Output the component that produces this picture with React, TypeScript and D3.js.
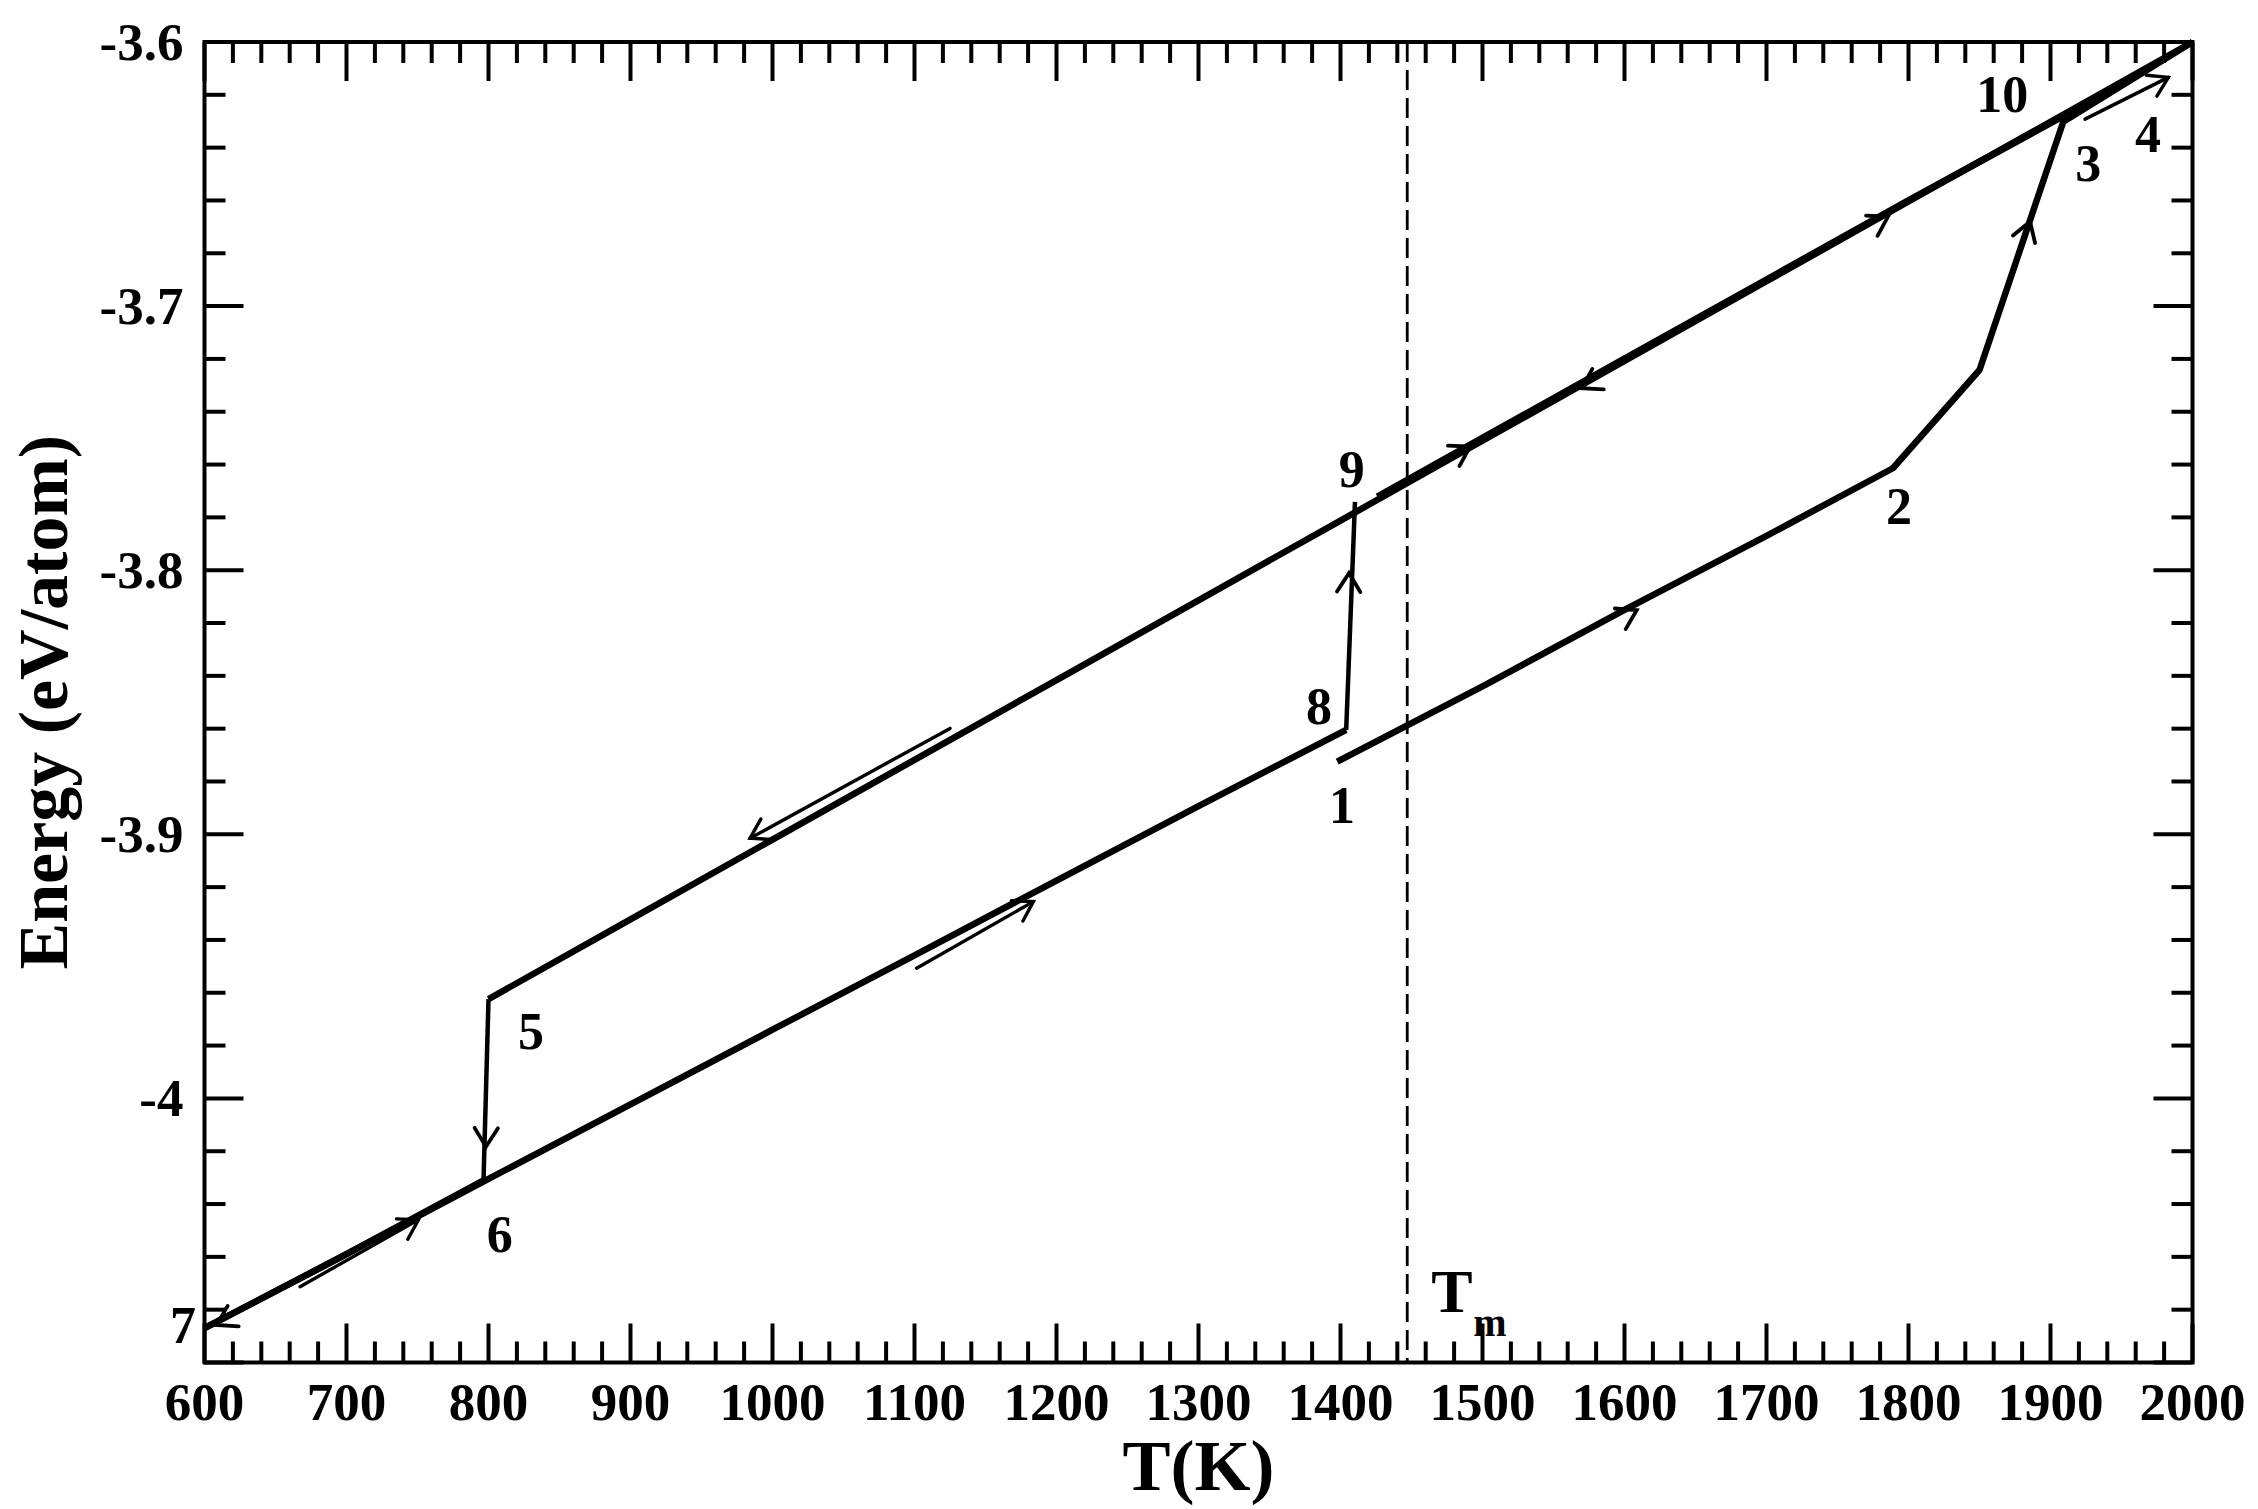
import React from "react";
import * as d3 from "d3";

// ---------- data ----------
const xDomain = [600, 2000];
const yDomain = [-4.1, -3.6];
const xMajorTicks = [600, 700, 800, 900, 1000, 1100, 1200, 1300, 1400, 1500, 1600, 1700, 1800, 1900, 2000];
const yMajorTicks = [-3.6, -3.7, -3.8, -3.9, -4.0, -4.1];
const yTickLabels = ["-3.6", "-3.7", "-3.8", "-3.9", "-4", ""];

// heating 1 -> 2 -> 3 -> 4
const heat1T = [1397.7, 1500, 1600, 1700, 1789, 1850, 1909, 2000];
const heat1E = [-3.8725, -3.844, -3.815, -3.787, -3.7614, -3.7242, -3.6302, -3.6];
// cooling 4 -> 5
const coolUpperT = [2000, 1900, 1800, 1700, 1600, 1500, 1400, 1300, 1200, 1100, 1000, 900, 800];
const coolUpperE = [-3.6, -3.6302, -3.6604, -3.6906, -3.7208, -3.751, -3.7812, -3.8114, -3.8416, -3.8718, -3.902, -3.9322, -3.9624];
// drop 5 -> 6
const dropT = [800, 796.5];
const dropE = [-3.9624, -4.031];
// cooling 6 -> 7
const coolLowerT = [796.5, 700, 600];
const coolLowerE = [-4.031, -4.059, -4.087];
// heating 7 -> 8
const heat2T = [600, 700, 800, 900, 1000, 1100, 1200, 1300, 1404];
const heat2E = [-4.087, -4.059, -4.0305, -4.0023, -3.974, -3.9458, -3.9175, -3.8893, -3.8605];
// jump 8 -> 9
const jumpT = [1404, 1410.2];
const jumpE = [-3.8605, -3.7741];
// heating 9 -> 10
const heat3T = [1426, 1500, 1600, 1700, 1800, 1909];
const heat3E = [-3.7722, -3.75, -3.72, -3.69, -3.66, -3.628];

// melting temperature
const meltT = 1447;

// arrowheads sitting on curves: tip and a point behind it
const headTipT = [1785.6, 1569.9, 1491.2, 1608.6, 1406, 1885.6, 798.2, 608.6];
const headTipE = [-3.6661, -3.7311, -3.7532, -3.8151, -3.8011, -3.668, -4.0183, -4.0858];
const headTailT = [1700, 1650, 1420, 1500, 1404.5, 1850, 799.5, 660];
const headTailE = [-3.692, -3.707, -3.775, -3.846, -3.84, -3.7242, -3.98, -4.071];

// free-standing arrows: from -> to
const arrowFromT = [1125, 1101.5, 1924.3, 667.3];
const arrowFromE = [-3.8599, -3.9507, -3.6292, -4.0713];
const arrowToT = [984.2, 1183.7, 1983, 750.6];
const arrowToE = [-3.9015, -3.9255, -3.6134, -4.046];

// point labels
const labelText = ["1", "2", "3", "4", "5", "6", "7", "8", "9", "10"];
const labelT = [1401, 1793.3, 1926.5, 1968.7, 830, 808, 584.9, 1384.9, 1408, 1866];
const labelE = [-3.8959, -3.7825, -3.6527, -3.6416, -3.9812, -4.0582, -4.0926, -3.8582, -3.7685, -3.6265];

// ---------- layout ----------
const W = 2258;
const H = 1509;
const L = 204.5, R = 2192.5, T = 42, B = 1362.5;
const FONT = "'Liberation Serif', 'Times New Roman', serif";

export default function App() {
  const x = d3.scaleLinear().domain(xDomain).range([L, R]);
  const y = d3.scaleLinear().domain(yDomain).range([B, T]);

  const line = d3
    .line<[number, number]>()
    .x((d) => x(d[0]))
    .y((d) => y(d[1]));

  const zip = (a: number[], b: number[]) => a.map((v, i) => [v, b[i]] as [number, number]);

  const series = [
    { pts: zip(heat1T, heat1E), w: 6.5 },
    { pts: zip(coolUpperT, coolUpperE), w: 6.5 },
    { pts: zip(dropT, dropE), w: 4.5 },
    { pts: zip(coolLowerT, coolLowerE), w: 6.5 },
    { pts: zip(heat2T, heat2E), w: 6.5 },
    { pts: zip(jumpT, jumpE), w: 4.5 },
    { pts: zip(heat3T, heat3E), w: 7 },
  ];

  const xMinor = d3.range(600, 2000.001, 20).filter((v) => Math.abs(v % 100) > 1e-6);
  const yMinor = d3.range(0, 26).map((i) => -4.1 + i * 0.02).filter((v) => {
    const r = Math.round(v * 10) / 10;
    return Math.abs(v - r) > 1e-6;
  });

  const MAJ = 39;
  const MIN = 21;

  const head = (tx: number, ty: number, fx: number, fy: number, len = 22, ang = 32) => {
    const a = Math.atan2(fy - ty, fx - tx);
    const r = (ang * Math.PI) / 180;
    const p1 = [tx + len * Math.cos(a + r), ty + len * Math.sin(a + r)];
    const p2 = [tx + len * Math.cos(a - r), ty + len * Math.sin(a - r)];
    return `M${p1[0]},${p1[1]}L${tx},${ty}L${p2[0]},${p2[1]}`;
  };

  return (
    <svg
      width={W}
      height={H}
      viewBox={`0 0 ${W} ${H}`}
      style={{ position: "absolute", left: 0, top: 0, display: "block", background: "#fff" }}
      fontFamily={FONT}
    >
      <rect x={0} y={0} width={W} height={H} fill="#fff" />

      {/* dashed Tm line */}
      <line
        x1={x(meltT)}
        x2={x(meltT)}
        y1={T}
        y2={B}
        stroke="#000"
        strokeWidth={2.8}
        strokeDasharray="20 8"
      />

      {/* curves */}
      {series.map((s, i) => (
        <path
          key={i}
          d={line(s.pts) || ""}
          fill="none"
          stroke="#000"
          strokeWidth={s.w}
          strokeLinejoin="round"
          strokeLinecap="butt"
        />
      ))}

      {/* arrowheads on curves */}
      {headTipT.map((t, i) => (
        <path
          key={"h" + i}
          d={head(x(t), y(headTipE[i]), x(headTailT[i]), y(headTailE[i]))}
          fill="none"
          stroke="#000"
          strokeWidth={3.8}
          strokeLinecap="round"
          strokeLinejoin="miter"
        />
      ))}

      {/* free-standing arrows */}
      {arrowFromT.map((t, i) => {
        const fx = x(t), fy = y(arrowFromE[i]);
        const tx = x(arrowToT[i]), ty = y(arrowToE[i]);
        return (
          <g key={"a" + i}>
            <line x1={fx} y1={fy} x2={tx} y2={ty} stroke="#000" strokeWidth={3.4} strokeLinecap="round" />
            <path d={head(tx, ty, fx, fy)} fill="none" stroke="#000" strokeWidth={3.4} strokeLinecap="round" />
          </g>
        );
      })}

      {/* frame */}
      <rect x={L} y={T} width={R - L} height={B - T} fill="none" stroke="#000" strokeWidth={4} />

      {/* x ticks */}
      {xMajorTicks.map((v) => (
        <g key={"xm" + v}>
          <line x1={x(v)} x2={x(v)} y1={B} y2={B - MAJ} stroke="#000" strokeWidth={4} />
          <line x1={x(v)} x2={x(v)} y1={T} y2={T + MAJ} stroke="#000" strokeWidth={4} />
          <text x={x(v)} y={B + 57} textAnchor="middle" fontSize={53} fontWeight="bold">
            {v}
          </text>
        </g>
      ))}
      {xMinor.map((v) => (
        <g key={"xn" + v}>
          <line x1={x(v)} x2={x(v)} y1={B} y2={B - MIN} stroke="#000" strokeWidth={4} />
          <line x1={x(v)} x2={x(v)} y1={T} y2={T + MIN} stroke="#000" strokeWidth={4} />
        </g>
      ))}

      {/* y ticks */}
      {yMajorTicks.map((v, i) => (
        <g key={"ym" + i}>
          <line x1={L} x2={L + MAJ} y1={y(v)} y2={y(v)} stroke="#000" strokeWidth={4} />
          <line x1={R} x2={R - MAJ} y1={y(v)} y2={y(v)} stroke="#000" strokeWidth={4} />
          <text x={L - 21} y={y(v) + 18} textAnchor="end" fontSize={53} fontWeight="bold">
            {yTickLabels[i]}
          </text>
        </g>
      ))}
      {yMinor.map((v, i) => (
        <g key={"yn" + i}>
          <line x1={L} x2={L + MIN} y1={y(v)} y2={y(v)} stroke="#000" strokeWidth={4} />
          <line x1={R} x2={R - MIN} y1={y(v)} y2={y(v)} stroke="#000" strokeWidth={4} />
        </g>
      ))}

      {/* point labels */}
      {labelText.map((s, i) => (
        <text
          key={"l" + i}
          x={x(labelT[i])}
          y={y(labelE[i])}
          textAnchor="middle"
          fontSize={52}
          fontWeight="bold"
        >
          {s}
        </text>
      ))}

      {/* Tm */}
      <text x={x(meltT) + 24} y={1312} fontSize={62} fontWeight="bold">
        T
      </text>
      <text x={x(meltT) + 66} y={1336} fontSize={40} fontWeight="bold">
        m
      </text>

      {/* axis titles */}
      <text x={(L + R) / 2} y={1490} textAnchor="middle" fontSize={72} fontWeight="bold">
        T(K)
      </text>
      <text
        transform={`translate(67, ${(T + B) / 2}) rotate(-90)`}
        textAnchor="middle"
        fontSize={70}
        fontWeight="bold"
      >
        Energy (eV/atom)
      </text>
    </svg>
  );
}
